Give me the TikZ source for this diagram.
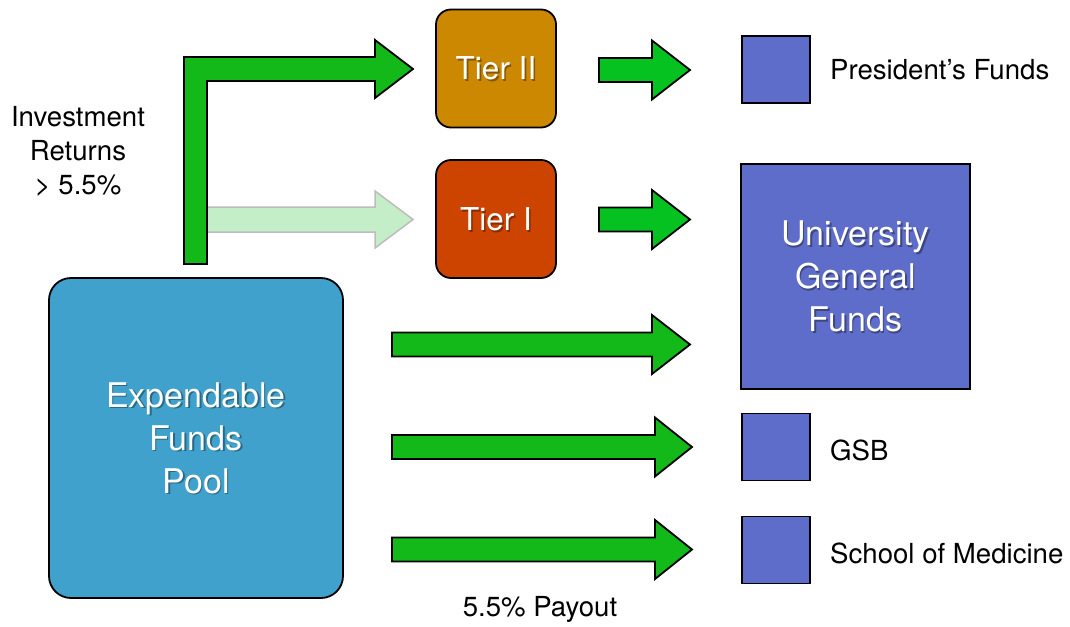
\documentclass[tikz,border=0pt]{standalone}
\usepackage{fontspec}
\setmainfont{TeX Gyre Heros}
\definecolor{tiertwo}{HTML}{CC8800}
\definecolor{tierone}{HTML}{CC4400}
\definecolor{poolblue}{HTML}{40A2CC}
\definecolor{fundblue}{HTML}{5E6DC9}
\definecolor{arrgreen}{HTML}{12B918}
\definecolor{arrgreenb}{HTML}{05C220}
\definecolor{lightgreen}{HTML}{C4EEC8}
\definecolor{lightedge}{HTML}{BDBDBD}
\newcommand{\barrow}[5][]{%
  \draw[arrowstyle,#1] (#2,{#5-12}) -- (#3,{#5-12}) -- (#3,{#5-29.5}) -- (#4,#5)
    -- (#3,{#5+29.5}) -- (#3,{#5+12}) -- (#2,{#5+12}) -- cycle;}
\newcommand{\tbox}[4]{%
  \node[#2] (#1) at (#3) {};
  \node[shadowtxt] (#1s) at ([shift={(1.6,1.8)}]#1.center) {#4};
  \node[whitetxt] (#1t) at (#1.center) {#4};}
\begin{document}
\begin{tikzpicture}[x=1pt,y=-1pt,
  arrowstyle/.style={draw=black,line width=1.8pt,fill=arrgreen,line join=miter},
  tierbox/.style={draw=black,line width=1.8pt,rounded corners=15pt,minimum width=120pt,minimum height=118pt,inner sep=0pt},
  poolbox/.style={draw=black,line width=1.8pt,rounded corners=22pt,fill=poolblue,minimum width=294pt,minimum height=320pt,inner sep=0pt},
  fundbox/.style={draw=black,line width=1.8pt,fill=fundblue,inner sep=0pt},
  smallfund/.style={fundbox,minimum width=68pt,minimum height=67pt},
  whitetxt/.style={text=white,align=center,inner sep=0pt,font=\fontsize{34}{43}\selectfont},
  shadowtxt/.style={whitetxt,text=black,text opacity=0.35},
  lbl/.style={text=black,inner sep=0pt,font=\fontsize{27.6}{34}\selectfont,align=center}]
\useasboundingbox (0,0) rectangle (1070,626);

% light arrow (Tier I) and L-shaped arrow (Tier II)
\draw[draw=lightedge,fill=lightgreen,line width=1.5pt] (200,207) -- (375,207) -- (375,191) -- (413,219.5)
  -- (375,248) -- (375,232) -- (200,232) -- cycle;
\draw[arrowstyle] (184,264) -- (184,57) -- (375,57) -- (375,40) -- (413,69) -- (375,98)
  -- (375,81) -- (207,81) -- (207,264) -- cycle;

% tier boxes
\tbox{tiertwo}{tierbox,fill=tiertwo}{496,68.5}{\fontsize{31.5}{40}\selectfont Tier II}
\tbox{tierone}{tierbox,fill=tierone}{496,219}{\fontsize{31.5}{40}\selectfont Tier I}

% pool
\tbox{pool}{poolbox}{196,438}{Expendable\\Funds\\Pool}

% fund boxes
\node[smallfund] (pres) at (776,69.5) {};
\tbox{univ}{fundbox,minimum width=229pt,minimum height=225pt}{855.5,276.5}{University\\General\\Funds}
\node[smallfund] (gsb) at (776,447) {};
\node[smallfund] (som) at (776,550) {};

% arrows
\barrow[fill=arrgreenb]{599}{652}{690}{70}
\barrow[fill=arrgreenb]{599}{652}{690}{219.5}
\barrow{392}{652}{690}{344.5}
\barrow{392}{655}{692}{447}
\barrow{392}{655}{692}{549.5}

% labels
\node[lbl] (inv) at (78,151) {Investment\\Returns\\> 5.5\%};
\node[lbl,anchor=west] (presl) at (830,70) {President’s Funds};
\node[lbl,anchor=west] (gsbl) at (830,450) {GSB};
\node[lbl,anchor=west] (soml) at (830,553) {School of Medicine};
\node[lbl] (payout) at (540,609) {5.5\% Payout};
\end{tikzpicture}
\end{document}
